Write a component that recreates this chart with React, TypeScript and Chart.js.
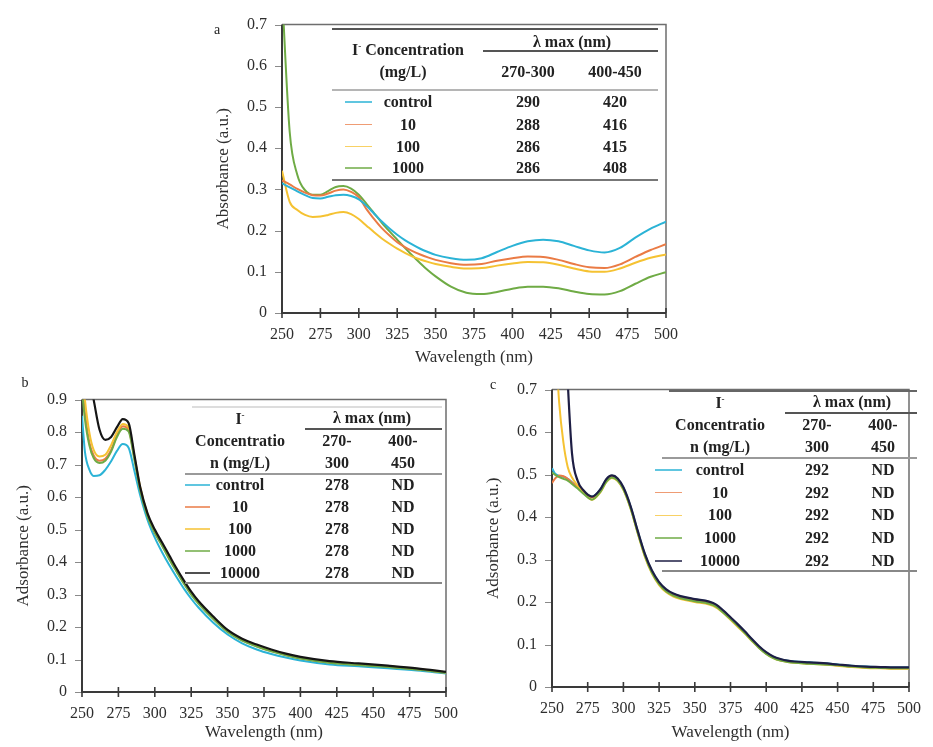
import React, { useEffect, useRef } from "react";
import { Chart, registerables } from "chart.js";

Chart.register(...registerables);

const SERIF = '"Liberation Serif", "Times New Roman", Times, serif';
const TEXT = "#2e2e2e";

// Series colours (iodide concentration)
const COL_CTRL = "#2bb3d6";
const COL_10 = "#ea7b45";
const COL_100 = "#f5c232";
const COL_1000 = "#6fab45";
const COL_10000_B = "#151515";
const COL_10000_C = "#1e1e44";

// ---------- Panel a : wavelength grid and absorbance ----------
const WL_A = [250, 255, 260, 265, 270, 275, 280, 285, 290, 295, 300, 305, 310, 315, 320, 325, 330, 335, 340, 345, 350, 360, 370, 380, 390, 400, 410, 420, 430, 440, 450, 460, 470, 480, 490, 500];
const A_CONTROL = [0.315, 0.305, 0.295, 0.286, 0.279, 0.278, 0.282, 0.286, 0.287, 0.284, 0.276, 0.26, 0.241, 0.222, 0.205, 0.19, 0.177, 0.166, 0.156, 0.148, 0.141, 0.133, 0.129, 0.133, 0.148, 0.163, 0.174, 0.178, 0.174, 0.163, 0.152, 0.147, 0.158, 0.183, 0.205, 0.222];
const A_10 = [0.322, 0.312, 0.301, 0.292, 0.286, 0.285, 0.29, 0.297, 0.3, 0.294, 0.281, 0.252, 0.228, 0.206, 0.188, 0.172, 0.16, 0.15, 0.142, 0.135, 0.129, 0.121, 0.117, 0.119, 0.127, 0.133, 0.137, 0.136, 0.129, 0.119, 0.111, 0.109, 0.118, 0.136, 0.153, 0.167];
const A_100 = [0.345, 0.27, 0.25, 0.238, 0.233, 0.234, 0.238, 0.243, 0.245, 0.24, 0.228, 0.212, 0.196, 0.181, 0.168, 0.156, 0.146, 0.137, 0.13, 0.124, 0.119, 0.112, 0.108, 0.109, 0.115, 0.12, 0.124, 0.123, 0.117, 0.108, 0.101, 0.1, 0.108, 0.122, 0.134, 0.142];
const A_1000 = [0.78, 0.44, 0.335, 0.298, 0.287, 0.287, 0.296, 0.306, 0.308, 0.302, 0.287, 0.265, 0.242, 0.219, 0.198, 0.178, 0.158, 0.139, 0.121, 0.104, 0.089, 0.064, 0.049, 0.046, 0.051, 0.059, 0.064, 0.064, 0.06, 0.052, 0.046, 0.045, 0.053, 0.071, 0.088, 0.099];

// ---------- Panel b ----------
const WL_B = [250, 252, 255, 258, 262, 266, 270, 274, 278, 282, 286, 290, 295, 300, 305, 310, 315, 320, 325, 330, 340, 350, 360, 370, 380, 390, 400, 420, 440, 460, 480, 500];
const B_CONTROL = [0.85, 0.74, 0.685, 0.665, 0.667, 0.684, 0.71, 0.742, 0.763, 0.752, 0.68, 0.605, 0.53, 0.475, 0.43, 0.39, 0.353, 0.318, 0.287, 0.26, 0.214, 0.177, 0.15, 0.131, 0.117, 0.106, 0.097, 0.085, 0.079, 0.073, 0.066, 0.057];
const B_10 = [0.95, 0.86, 0.77, 0.728, 0.712, 0.718, 0.745, 0.79, 0.818, 0.808, 0.72, 0.625, 0.545, 0.49, 0.452, 0.41, 0.372, 0.335, 0.302, 0.274, 0.227, 0.186, 0.159, 0.141, 0.126, 0.114, 0.104, 0.091, 0.084, 0.078, 0.07, 0.06];
const B_100 = [1.0, 0.9, 0.8, 0.745, 0.725, 0.73, 0.76, 0.8, 0.825, 0.815, 0.725, 0.63, 0.548, 0.495, 0.456, 0.415, 0.377, 0.34, 0.306, 0.278, 0.23, 0.189, 0.162, 0.143, 0.128, 0.116, 0.106, 0.093, 0.086, 0.079, 0.071, 0.061];
const B_1000 = [0.93, 0.84, 0.76, 0.72, 0.705, 0.712, 0.74, 0.785, 0.81, 0.802, 0.715, 0.62, 0.54, 0.49, 0.45, 0.408, 0.37, 0.333, 0.3, 0.272, 0.225, 0.185, 0.158, 0.14, 0.125, 0.113, 0.103, 0.09, 0.083, 0.077, 0.069, 0.059];
const B_10000 = [1.1, 1.04, 0.97, 0.9, 0.808, 0.776, 0.785, 0.815, 0.84, 0.828, 0.73, 0.63, 0.55, 0.5, 0.46, 0.42, 0.38, 0.343, 0.309, 0.28, 0.233, 0.191, 0.164, 0.146, 0.131, 0.118, 0.108, 0.095, 0.088, 0.081, 0.073, 0.062];

// ---------- Panel c ----------
const WL_C = [250, 252, 255, 258, 261, 264, 268, 272, 278, 284, 288, 292, 296, 300, 305, 310, 315, 320, 325, 330, 335, 340, 350, 360, 365, 370, 375, 380, 385, 390, 395, 400, 405, 410, 415, 420, 430, 440, 450, 460, 470, 480, 490, 500];
const C_CONTROL = [0.515, 0.503, 0.497, 0.495, 0.49, 0.482, 0.472, 0.46, 0.448, 0.466, 0.488, 0.497, 0.49, 0.469, 0.425, 0.367, 0.313, 0.273, 0.246, 0.229, 0.219, 0.213, 0.206, 0.2, 0.193, 0.179, 0.163, 0.147, 0.13, 0.112, 0.095, 0.081, 0.071, 0.065, 0.062, 0.06, 0.058, 0.056, 0.053, 0.05, 0.048, 0.047, 0.046, 0.046];
const C_10 = [0.48, 0.49, 0.498, 0.496, 0.49, 0.481, 0.471, 0.459, 0.446, 0.464, 0.486, 0.495, 0.488, 0.467, 0.423, 0.365, 0.311, 0.271, 0.244, 0.227, 0.217, 0.211, 0.204, 0.198, 0.191, 0.177, 0.161, 0.145, 0.128, 0.11, 0.093, 0.079, 0.069, 0.063, 0.06, 0.058, 0.056, 0.054, 0.051, 0.048, 0.046, 0.045, 0.044, 0.044];
const C_100 = [0.95, 0.84, 0.67, 0.575, 0.518, 0.493, 0.474, 0.458, 0.441, 0.459, 0.482, 0.492, 0.485, 0.464, 0.42, 0.362, 0.307, 0.267, 0.24, 0.223, 0.213, 0.207, 0.2, 0.194, 0.187, 0.174, 0.158, 0.142, 0.126, 0.108, 0.092, 0.078, 0.068, 0.062, 0.059, 0.057, 0.055, 0.053, 0.05, 0.047, 0.045, 0.044, 0.043, 0.043];
const C_1000 = [0.505, 0.5, 0.494, 0.49, 0.486, 0.478, 0.467, 0.455, 0.441, 0.46, 0.483, 0.493, 0.486, 0.465, 0.421, 0.363, 0.309, 0.269, 0.242, 0.225, 0.215, 0.209, 0.202, 0.196, 0.189, 0.175, 0.16, 0.144, 0.127, 0.109, 0.092, 0.078, 0.068, 0.062, 0.059, 0.057, 0.055, 0.053, 0.051, 0.048, 0.046, 0.045, 0.044, 0.044];
const C_10000 = [1.4, 1.3, 1.15, 0.95, 0.72, 0.55, 0.485, 0.463, 0.448, 0.466, 0.489, 0.498, 0.491, 0.47, 0.426, 0.368, 0.314, 0.274, 0.247, 0.23, 0.22, 0.214, 0.207, 0.201, 0.194, 0.18, 0.164, 0.148, 0.131, 0.113, 0.096, 0.082, 0.072, 0.066, 0.062, 0.06, 0.058, 0.056, 0.053, 0.05, 0.048, 0.047, 0.046, 0.046];

// ---------- Inset tables ----------
const CONC_A = ["control", "10", "100", "1000"];
const LMAX1_A = ["290", "288", "286", "286"];
const LMAX2_A = ["420", "416", "415", "408"];
const CONC_BC = ["control", "10", "100", "1000", "10000"];
const LMAX1_B = ["278", "278", "278", "278", "278"];
const LMAX2_B = ["ND", "ND", "ND", "ND", "ND"];
const LMAX1_C = ["292", "292", "292", "292", "292"];
const LMAX2_C = ["ND", "ND", "ND", "ND", "ND"];

const WAVELENGTH_TICKS = [250, 275, 300, 325, 350, 375, 400, 425, 450, 475, 500];

type Series = { label: string; values: number[]; color: string; width: number; order: number };
type PanelSpec = {
  left: number; top: number; w: number; h: number;
  padTop: number; padRight: number; yWidth: number; xHeight: number;
  yMax: number; yTitle: string; wl: number[]; series: Series[];
};

// Plot frame: grey box on top/right, dark axes, crossing x ticks, short y ticks
const framePlugin = {
  id: "frame",
  beforeDatasetsDraw(chart: any) {
    const { ctx, chartArea } = chart;
    const { left, right, top, bottom } = chartArea;
    const xs = chart.scales.x;
    const ys = chart.scales.y;
    ctx.save();
    ctx.strokeStyle = "#6e6e6e";
    ctx.lineWidth = 1.5;
    ctx.beginPath();
    ctx.moveTo(left, top);
    ctx.lineTo(right, top);
    ctx.lineTo(right, bottom);
    ctx.stroke();

    ctx.strokeStyle = "#8a8a8a";
    ctx.lineWidth = 1;
    ctx.beginPath();
    ys.ticks.forEach((t: any) => {
      const py = Math.round(ys.getPixelForValue(t.value)) + 0.5;
      ctx.moveTo(left - 7, py);
      ctx.lineTo(left, py);
    });
    ctx.stroke();

    ctx.strokeStyle = "#3a3a3a";
    ctx.lineWidth = 2;
    ctx.beginPath();
    ctx.moveTo(left, top);
    ctx.lineTo(left, bottom);
    ctx.lineTo(right, bottom);
    ctx.stroke();

    ctx.lineWidth = 1.6;
    ctx.beginPath();
    xs.ticks.forEach((t: any) => {
      const px = xs.getPixelForValue(t.value);
      ctx.moveTo(px, bottom - 5);
      ctx.lineTo(px, bottom + 5);
    });
    ctx.stroke();
    ctx.restore();
  },
};

function SpectrumPanel({ spec }: { spec: PanelSpec }) {
  const ref = useRef<HTMLCanvasElement | null>(null);
  useEffect(() => {
    if (!ref.current) return;
    const chart = new Chart(ref.current, {
      type: "line",
      data: {
        datasets: spec.series.map((s) => ({
          label: s.label,
          data: spec.wl.map((x, i) => ({ x, y: s.values[i] })),
          borderColor: s.color,
          backgroundColor: s.color,
          borderWidth: s.width,
          pointRadius: 0,
          fill: false,
          cubicInterpolationMode: "monotone" as const,
          order: s.order,
        })),
      },
      options: {
        responsive: false,
        animation: false,
        devicePixelRatio: 1,
        layout: { padding: { top: spec.padTop, right: spec.padRight, left: 0, bottom: 0 } },
        plugins: { legend: { display: false }, tooltip: { enabled: false } },
        scales: {
          x: {
            type: "linear",
            min: 250,
            max: 500,
            afterBuildTicks: (scale: any) => {
              scale.ticks = WAVELENGTH_TICKS.map((v) => ({ value: v }));
            },
            afterFit: (scale: any) => {
              scale.height = spec.xHeight;
            },
            grid: { display: false, drawTicks: false },
            border: { display: false },
            ticks: { color: TEXT, font: { family: SERIF, size: 16 }, padding: 12, maxRotation: 0, autoSkip: false },
            title: {
              display: true,
              text: "Wavelength (nm)",
              color: TEXT,
              font: { family: SERIF, size: 17 },
              padding: { top: 0, bottom: 4 },
            },
          },
          y: {
            type: "linear",
            min: 0,
            max: spec.yMax,
            afterFit: (scale: any) => {
              scale.width = spec.yWidth;
            },
            grid: { display: false, drawTicks: false },
            border: { display: false },
            ticks: {
              stepSize: 0.1,
              color: TEXT,
              font: { family: SERIF, size: 16 },
              padding: 15,
              callback: (v: any) => (Number(v) === 0 ? "0" : Number(v).toFixed(1)),
            },
            title: {
              display: true,
              text: spec.yTitle,
              color: TEXT,
              font: { family: SERIF, size: 17 },
              padding: { top: 13, bottom: 0 },
            },
          },
        },
      },
      plugins: [framePlugin],
    });
    return () => chart.destroy();
  }, [spec]);
  return (
    <canvas
      ref={ref}
      width={spec.w}
      height={spec.h}
      style={{ position: "absolute", left: spec.left, top: spec.top, width: spec.w, height: spec.h }}
    />
  );
}

const PANEL_A: PanelSpec = {
  left: 200, top: 0, w: 490, h: 372, padTop: 23, padRight: 21, yWidth: 82, xHeight: 59,
  yMax: 0.7, yTitle: "Absorbance (a.u.)", wl: WL_A,
  series: [
    { label: CONC_A[0], values: A_CONTROL, color: COL_CTRL, width: 2, order: 0 },
    { label: CONC_A[1], values: A_10, color: COL_10, width: 2, order: 1 },
    { label: CONC_A[2], values: A_100, color: COL_100, width: 2, order: 2 },
    { label: CONC_A[3], values: A_1000, color: COL_1000, width: 2, order: 3 },
  ],
};

const PANEL_B: PanelSpec = {
  left: 0, top: 375, w: 470, h: 372, padTop: 12, padRight: 18, yWidth: 82, xHeight: 55,
  yMax: 0.9, yTitle: "Adsorbance (a.u.)", wl: WL_B,
  series: [
    { label: CONC_BC[0], values: B_CONTROL, color: COL_CTRL, width: 2, order: 4 },
    { label: CONC_BC[1], values: B_10, color: COL_10, width: 2, order: 3 },
    { label: CONC_BC[2], values: B_100, color: COL_100, width: 2, order: 2 },
    { label: CONC_BC[3], values: B_1000, color: COL_1000, width: 2, order: 1 },
    { label: CONC_BC[4], values: B_10000, color: COL_10000_B, width: 2.2, order: 0 },
  ],
};

const PANEL_C: PanelSpec = {
  left: 470, top: 365, w: 463, h: 382, padTop: 13, padRight: 16, yWidth: 82, xHeight: 60,
  yMax: 0.7, yTitle: "Adsorbance (a.u.)", wl: WL_C,
  series: [
    { label: CONC_BC[0], values: C_CONTROL, color: COL_CTRL, width: 2, order: 4 },
    { label: CONC_BC[1], values: C_10, color: COL_10, width: 2, order: 3 },
    { label: CONC_BC[2], values: C_100, color: COL_100, width: 2, order: 2 },
    { label: CONC_BC[3], values: C_1000, color: COL_1000, width: 2, order: 1 },
    { label: CONC_BC[4], values: C_10000, color: COL_10000_C, width: 2.2, order: 0 },
  ],
};

const SERIES_COLORS = [COL_CTRL, COL_10, COL_100, COL_1000];

function Txt({ x, y, children, bold = true, size = 16 }: { x: number; y: number; children: React.ReactNode; bold?: boolean; size?: number }) {
  return (
    <div
      style={{
        position: "absolute",
        left: x,
        top: y,
        transform: "translate(-50%, -50%)",
        font: `${bold ? "bold " : ""}${size}px ${SERIF}`,
        color: "#222",
        whiteSpace: "nowrap",
        lineHeight: 1,
      }}
    >
      {children}
    </div>
  );
}

function Rule({ x1, x2, y, color = "#666", w = 1.5 }: { x1: number; x2: number; y: number; color?: string; w?: number }) {
  return <div style={{ position: "absolute", left: x1, top: y - w / 2, width: x2 - x1, height: w, background: color }} />;
}

function Swatch({ x1, x2, y, color }: { x1: number; x2: number; y: number; color: string }) {
  return <div style={{ position: "absolute", left: x1, top: y - 0.75, width: x2 - x1, height: 1.5, background: color, opacity: 0.75 }} />;
}

const Iminus = () => (
  <span>
    I<sup style={{ fontSize: 9, verticalAlign: "6px", lineHeight: 0 }}>-</sup>
  </span>
);

function TableA() {
  const rows = [102, 124.5, 146.5, 168];
  return (
    <>
      <Rule x1={332} x2={658} y={29} color="#555" />
      <Txt x={408} y={50}>
        <Iminus /> Concentration
      </Txt>
      <Txt x={572} y={42}>λ max (nm)</Txt>
      <Rule x1={483} x2={658} y={51} color="#555" w={1.2} />
      <Txt x={403} y={72}>(mg/L)</Txt>
      <Txt x={528} y={72}>270-300</Txt>
      <Txt x={615} y={72}>400-450</Txt>
      <Rule x1={332} x2={658} y={90} color="#b5b5b5" w={1.2} />
      {CONC_A.map((c, i) => (
        <React.Fragment key={c}>
          <Swatch x1={345} x2={372} y={rows[i]} color={SERIES_COLORS[i]} />
          <Txt x={408} y={rows[i]}>{c}</Txt>
          <Txt x={528} y={rows[i]}>{LMAX1_A[i]}</Txt>
          <Txt x={615} y={rows[i]}>{LMAX2_A[i]}</Txt>
        </React.Fragment>
      ))}
      <Rule x1={332} x2={658} y={180} color="#777" />
    </>
  );
}

function TableNarrow({
  x0, x1, labelX, c1, c2, yHead, rowY0, rowStep, swatch, lmax1, lmax2, dark, topRule,
}: {
  x0: number; x1: number; labelX: number; c1: number; c2: number; yHead: number; rowY0: number; rowStep: number;
  swatch: [number, number]; lmax1: string[]; lmax2: string[]; dark: string; topRule: string;
}) {
  const colors = [...SERIES_COLORS, dark];
  return (
    <>
      <Rule x1={x0 + 7} x2={x1} y={yHead - 12} color={topRule} w={1.2} />
      <Txt x={labelX} y={yHead}>
        <Iminus />
      </Txt>
      <Txt x={(c1 + c2) / 2 + 2} y={yHead - 1}>λ max (nm)</Txt>
      <Rule x1={c1 - 32} x2={x1} y={yHead + 10} color="#555" w={1.2} />
      <Txt x={labelX} y={yHead + 22}>Concentratio</Txt>
      <Txt x={c1} y={yHead + 22}>270-</Txt>
      <Txt x={c2} y={yHead + 22}>400-</Txt>
      <Txt x={labelX} y={yHead + 44}>n (mg/L)</Txt>
      <Txt x={c1} y={yHead + 44}>300</Txt>
      <Txt x={c2} y={yHead + 44}>450</Txt>
      <Rule x1={x0} x2={x1} y={yHead + 55} color="#9a9a9a" w={1.2} />
      {CONC_BC.map((c, i) => {
        const y = rowY0 + i * rowStep;
        return (
          <React.Fragment key={c}>
            <Swatch x1={swatch[0]} x2={swatch[1]} y={y} color={colors[i]} />
            <Txt x={labelX} y={y}>{c}</Txt>
            <Txt x={c1} y={y}>{lmax1[i]}</Txt>
            <Txt x={c2} y={y}>{lmax2[i]}</Txt>
          </React.Fragment>
        );
      })}
      <Rule x1={x0} x2={x1} y={rowY0 + 4 * rowStep + 10} color="#888" w={2} />
    </>
  );
}

export default function App() {
  return (
    <div style={{ position: "absolute", left: 0, top: 0, width: 933, height: 747, background: "#ffffff", overflow: "hidden" }}>
      <SpectrumPanel spec={PANEL_A} />
      <SpectrumPanel spec={PANEL_B} />
      <SpectrumPanel spec={PANEL_C} />
      <Txt x={217} y={30} bold={false} size={14}>a</Txt>
      <Txt x={25} y={383} bold={false} size={14}>b</Txt>
      <Txt x={493} y={385} bold={false} size={14}>c</Txt>
      <TableA />
      <TableNarrow
        x0={185} x1={442} labelX={240} c1={337} c2={403} yHead={419} rowY0={485} rowStep={22}
        swatch={[185, 210]} lmax1={LMAX1_B} lmax2={LMAX2_B} dark={COL_10000_B} topRule="#dddddd"
      />
      <TableNarrow
        x0={662} x1={917} labelX={720} c1={817} c2={883} yHead={403} rowY0={470} rowStep={22.7}
        swatch={[655, 682]} lmax1={LMAX1_C} lmax2={LMAX2_C} dark={COL_10000_C} topRule="#666666"
      />
    </div>
  );
}
